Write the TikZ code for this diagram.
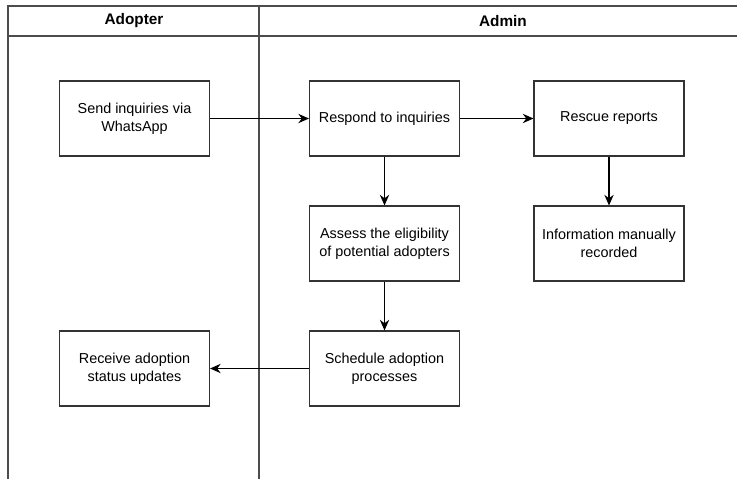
\documentclass[tikz,border=0pt]{standalone}
\usepackage{fontspec}
\setmainfont{Liberation Sans}
\usetikzlibrary{shapes,arrows,calc,arrows.meta}

\tikzset{
    task/.style={draw=black!80, line width=0.8pt, minimum width=112.5pt, minimum height=56.25pt,
                 align=center, inner sep=0pt, font=\fontsize{10.8}{13.5}\selectfont},
    lanehead/.style={font=\bfseries\fontsize{11.5}{13}\selectfont},
    lane/.style={draw=black!70, line width=0.9pt}
}

\begin{document}
\begin{tikzpicture}[x=0.75pt, y=-0.75pt, auto]
            \useasboundingbox (0,0) rectangle (737,479);
            % swimlanes
            \draw[lane] (737,6) -- (8,6) -- (8,479);
            \draw[lane] (8,36) -- (737,36);
            \draw[lane] (259,6) -- (259,479);
            \draw (134,21) node[lanehead] (adopter) {Adopter};
            \draw (503,21) node[lanehead] (admin) {Admin};
            % tasks
            \draw (134.5,118.5) node[task] (send) {Send inquiries via\\WhatsApp};
            \draw (384.5,118.5) node[task] (respond) {Respond to inquiries};
            \draw (609,118.5) node[task] (rescue) {Rescue reports};
            \draw (384.5,243.5) node[task] (assess) {Assess the eligibility\\of potential adopters};
            \draw (609,243.5) node[task] (info) {Information manually\\recorded};
            \draw (384.5,368.5) node[task] (schedule) {Schedule adoption\\processes};
            \draw (134.5,368.5) node[task] (receive) {Receive adoption\\status updates};
            \path[-{Stealth[length=8pt,width=7pt]}, line width=0.8pt]
                      (send) edge (respond)
                      (respond) edge (rescue)
                      (respond) edge (assess)
                      (rescue) edge (info)
                      (assess) edge (schedule)
                      (schedule) edge (receive);
        \end{tikzpicture}
\end{document}
